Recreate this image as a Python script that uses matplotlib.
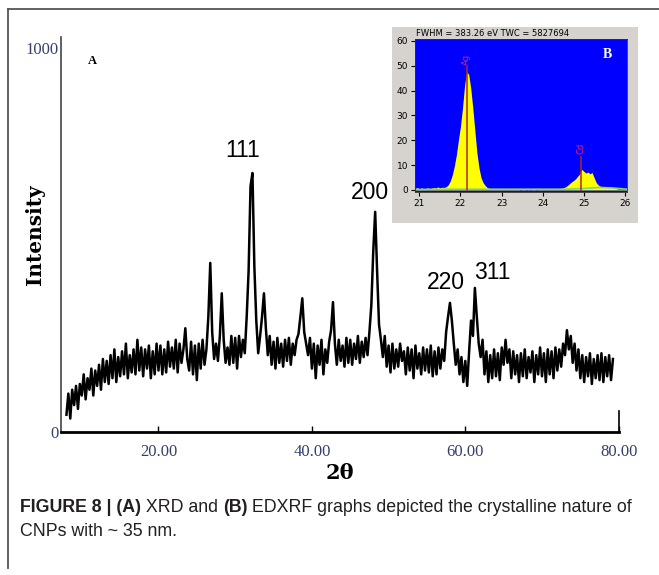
import numpy as np
import matplotlib.pyplot as plt
from matplotlib.patches import Rectangle
from matplotlib.lines import Line2D

W, H = 659, 575

# XRD pattern (A): intensity every 0.25 deg from 8.0
two_theta_start, two_theta_step = 8.0, 0.25
xrd_counts = [
    45, 100, 35, 110,     70, 120, 60, 125,     95, 150, 85, 140,
    110, 165, 95, 160,    120, 175, 110, 190,   130, 185, 125, 200,
    140, 215, 130, 195,   145, 210, 150, 230,   140, 200, 155, 215,
    150, 240, 160, 220,   145, 215, 165, 225,   140, 210, 150, 230,
    160, 225, 150, 215,   155, 235, 170, 220,   165, 240, 155, 230,
    180, 215, 270, 190,   160, 235, 150, 225,   135, 230, 165, 240,
    175, 215, 300, 440,   260, 190, 230, 185,   250, 361, 240, 180,
    220, 175, 250, 180,   245, 165, 250, 195,   240, 205, 300, 420,
    640, 674, 430, 290,   205, 250, 300, 361,   270, 200, 250, 175,
    235, 165, 245, 180,   230, 170, 240, 185,   245, 175, 230, 200,
    240, 255, 300, 348,   260, 230, 200, 245,   165, 230, 140, 225,
    175, 240, 150, 215,   180, 235, 265, 338,   230, 175, 240, 185,
    225, 170, 245, 180,   240, 175, 230, 190,   250, 180, 235, 195,
    245, 200, 260, 330,   470, 573, 420, 280,   240, 195, 250, 170,
    225, 155, 230, 165,   215, 170, 230, 185,   210, 150, 220, 160,
    215, 140, 225, 165,   205, 150, 220, 160,   215, 155, 225, 145,
    210, 150, 220, 165,   215, 185, 260, 300,   336, 290, 230, 175,
    215, 150, 195, 130,   185, 120, 210, 290,   250, 375, 300, 230,
    195, 240, 150, 210,   130, 200, 140, 215,   145, 205, 135, 220,
    175, 240, 180, 215,   140, 210, 150, 200,   130, 205, 145, 215,
    140, 195, 155, 210,   130, 200, 150, 220,   145, 205, 130, 215,
    150, 210, 140, 220,   160, 215, 170, 230,   200, 265, 215, 250,
    180, 230, 160, 215,   140, 200, 130, 195,   145, 205, 125, 190,
    140, 200, 135, 205,   130, 195, 145, 200,   135, 190,
]
peak_labels = ['111', '200', '220', '311']
peak_label_x = [31.0, 47.6, 57.5, 63.5]
peak_label_y = [733, 624, 390, 416]
xrd_ticks = [20, 40, 60, 80]

# EDXRF spectrum (B): counts every 0.05 keV from 20.90
energy_start, energy_step = 20.90, 0.05
edxrf_counts = [
    0.5, 1.0, 0.4, 0.8, 0.6, 0.3, 0.9, 0.5, 0.7, 1.0,
    0.8, 1.2, 0.9, 1.1, 1.0, 1.3, 2.0, 3.5, 6.0, 9.5,
    14.0, 20.0, 25.5, 33.0, 42.0, 47.5, 46.5, 41.0, 33.0, 24.0,
    15.0, 9.0, 5.0, 3.0, 1.8, 1.0, 0.6, 0.4, 0.3, 0.5,
    0.2, 0.4, 0.3, 0.5, 0.2, 0.4, 0.3, 0.2, 0.4, 0.2,
    0.3, 0.1, 0.2, 0.3, 0.1, 0.2, 0.1, 0.2, 0.3, 0.1,
    0.2, 0.3, 0.2, 0.3, 0.2, 0.4, 0.3, 0.5, 0.4, 0.6,
    0.5, 0.7, 0.9, 1.2, 1.8, 2.5, 3.2, 3.8, 4.5, 5.5,
    6.5, 8.3, 7.5, 6.8, 7.2, 6.5, 7.0, 5.0, 3.0, 2.0,
    1.5, 1.3, 1.2, 1.3, 1.2, 1.3, 1.1, 0.8, 0.5, 0.3,
    0.4, 0.2, 0.3, 0.2,
]
bg_energy = [20.9, 21.7, 22.7, 24.6, 25.0, 25.4, 25.7, 26.05]
bg_counts = [0.2, 0.3, 0.3, 0.3, 0.6, 1.0, 0.8, 0.3]
line_names = ['Ag', 'Cd']
line_energy = [22.15, 24.93]
line_height = [49.5, 13.4]


def fx(px):
    return px / W


def fy(py):
    return 1 - py / H


fig = plt.figure(figsize=(W / 100, H / 100), dpi=100)

# outer frame (top and left rules)
fig.add_artist(Line2D([fx(8), 1.0], [fy(9), fy(9)], color='#555555', lw=1.3))
fig.add_artist(Line2D([fx(8), fx(8)], [fy(9), fy(568)], color='#555555', lw=1.3))

# ---- panel A: XRD ----
two_theta = two_theta_start + two_theta_step * np.arange(len(xrd_counts))
ax = fig.add_axes([fx(61), fy(432), (618.7 - 61) / W, (432 - 37) / H])
ax.plot(two_theta, xrd_counts, color='black', lw=1.8)
ax.set_xlim(7.29, 80)
ax.set_ylim(0, 1028)

ax.spines['top'].set_visible(False)
ax.spines['left'].set_color('#444444')
ax.spines['left'].set_linewidth(1.2)
ax.spines['bottom'].set_linewidth(2.0)
ax.spines['right'].set_bounds(0, 55)
ax.spines['right'].set_linewidth(1.2)

tick_color = '#34406a'
ax.set_xticks(xrd_ticks)
ax.set_xticklabels(['%.2f' % t for t in xrd_ticks], family='Liberation Serif',
                   fontsize=12, color=tick_color)
ax.tick_params(axis='x', direction='in', length=4, width=1, pad=9)
ax.set_yticks([0, 1000])
ax.set_yticklabels(['0', '1000'], family='Liberation Serif', fontsize=12, color=tick_color)
ax.tick_params(axis='y', length=0, pad=2)

ax.set_xlabel('2θ', family='DejaVu Serif', fontweight='bold', fontsize=15, labelpad=2)
ax.set_ylabel('Intensity', family='DejaVu Serif', fontweight='bold', fontsize=14.5)
ax.yaxis.set_label_coords((45 - 61) / 557.7, (432 - 235) / 395)

for lab, x, y in zip(peak_labels, peak_label_x, peak_label_y):
    ax.text(x, y, lab, ha='center', va='center', fontsize=16.5, family='Liberation Sans')

ax.text(0.057, 0.94, 'A', transform=ax.transAxes, family='Liberation Serif',
        fontweight='bold', fontsize=9, ha='center', va='center')

# ---- panel B: EDXRF inset ----
fig.add_artist(Rectangle((fx(392), fy(223)), (638 - 392) / W, (223 - 27) / H,
                         transform=fig.transFigure, facecolor='#d6d3ce',
                         edgecolor='none', zorder=2))
energy = energy_start + energy_step * np.arange(len(edxrf_counts))
axb = fig.add_axes([fx(415), fy(191.7), (627 - 415) / W, (191.7 - 39.3) / H], zorder=3)
axb.set_facecolor('#0000ff')
axb.fill_between(energy, 0, edxrf_counts, color='#ffff00', lw=0)
axb.plot(bg_energy, bg_counts, color='#7fdc5a', lw=1.2)
for name, e, h in zip(line_names, line_energy, line_height):
    axb.plot([e, e], [0, h], color='#b02828', lw=1.1)
    axb.text(e, h + 3.2, name, rotation=90, ha='center', va='center',
             fontsize=6, color='#e0207a')
axb.set_xlim(20.895, 26.05)
axb.set_ylim(-0.7, 60.6)
axb.set_xticks([21, 22, 23, 24, 25, 26])
axb.set_yticks([0, 10, 20, 30, 40, 50, 60])
axb.tick_params(labelsize=6.5, length=3, pad=2, colors='black')
for s in axb.spines.values():
    s.set_color('#303030')
    s.set_linewidth(0.6)
axb.text(0.91, 0.9, 'B', transform=axb.transAxes, color='white', fontweight='bold',
         family='Liberation Serif', fontsize=10, ha='center', va='center')
fig.text(fx(416), fy(34), 'FWHM = 383.26 eV TWC = 5827694', fontsize=6,
         ha='left', va='center', zorder=4)

# ---- caption ----
fig.canvas.draw()
renderer = fig.canvas.get_renderer()


def caption_line(parts, x, y):
    for s, bold in parts:
        t = fig.text(x, y, s, fontsize=12.8, family='Liberation Sans', color='#231f20',
                     fontweight='bold' if bold else 'normal', ha='left', va='center')
        x += t.get_window_extent(renderer).width / fig.bbox.width


caption_line([('FIGURE 8 | (A)', True), (' XRD and ', False), ('(B)', True),
              (' EDXRF graphs depicted the crystalline nature of', False)], fx(20), fy(508))
caption_line([('CNPs with ~ 35 nm.', False)], fx(20), fy(532))

fig.savefig('out.png', dpi=100)
